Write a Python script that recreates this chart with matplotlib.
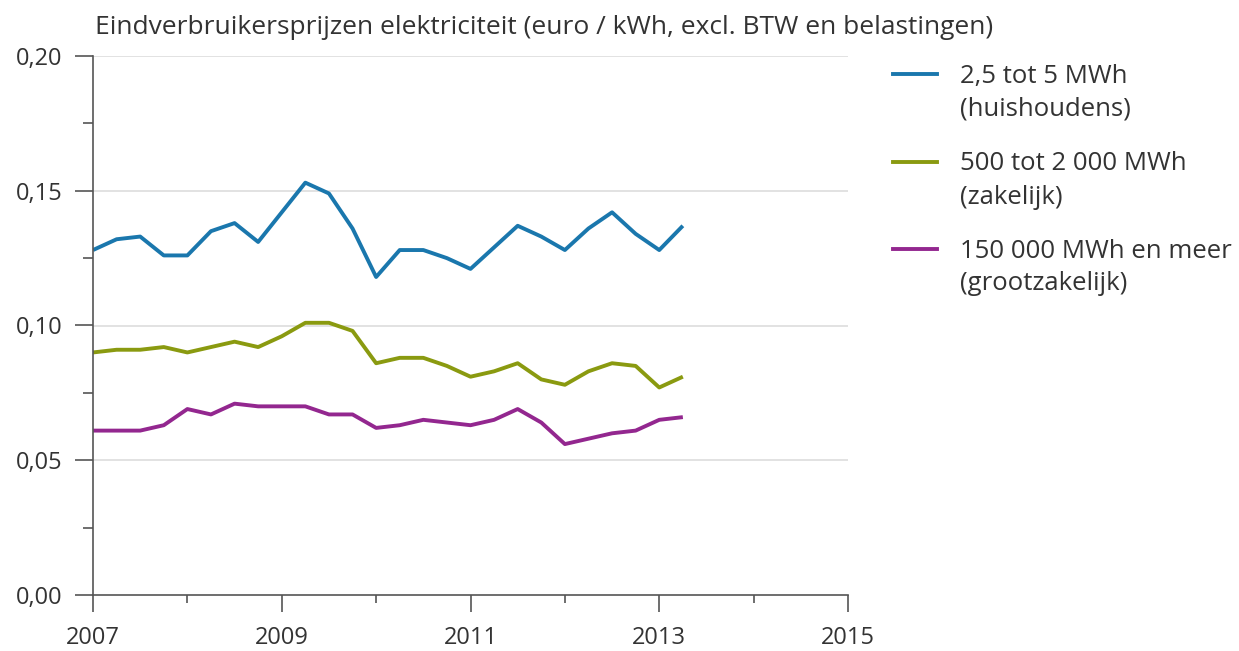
import matplotlib
matplotlib.use("Agg")
import matplotlib.pyplot as plt
from matplotlib.ticker import FuncFormatter, MultipleLocator, FixedLocator
from matplotlib.lines import Line2D
import numpy as np

plt.rcParams['font.family'] = ['Open Sans', 'DejaVu Sans']

title = "Eindverbruikersprijzen elektriciteit (euro / kWh, excl. BTW en belastingen)"
start_year = 2007.0
n_points = 26
labels = [("2,5 tot 5 MWh", "(huishoudens)"),
          ("500 tot 2 000 MWh", "(zakelijk)"),
          ("150 000 MWh en meer", "(grootzakelijk)")]
huishoudens = [0.128, 0.132, 0.133, 0.126, 0.126, 0.135, 0.138, 0.131, 0.142, 0.153,
               0.149, 0.136, 0.118, 0.128, 0.128, 0.125, 0.121, 0.129, 0.137, 0.133,
               0.128, 0.136, 0.142, 0.134, 0.128, 0.137]
zakelijk = [0.090, 0.091, 0.091, 0.092, 0.090, 0.092, 0.094, 0.092, 0.096, 0.101,
            0.101, 0.098, 0.086, 0.088, 0.088, 0.085, 0.081, 0.083, 0.086, 0.080,
            0.078, 0.083, 0.086, 0.085, 0.077, 0.081]
grootzakelijk = [0.061, 0.061, 0.061, 0.063, 0.069, 0.067, 0.071, 0.070, 0.070, 0.070,
                 0.067, 0.067, 0.062, 0.063, 0.065, 0.064, 0.063, 0.065, 0.069, 0.064,
                 0.056, 0.058, 0.060, 0.061, 0.065, 0.066]
colors = ['#1a77ad', '#8a9a10', '#93278f']

x = start_year + np.arange(n_points) * 0.25

W, H = 1239, 651
fig = plt.figure(figsize=(W/100, H/100), dpi=100)
ax = fig.add_axes([93/W, 1-595/H, (848-93)/W, (595-56)/H])

for series, c in zip([huishoudens, zakelijk, grootzakelijk], colors):
    ax.plot(x, series, color=c, lw=2.8, solid_joinstyle='round', solid_capstyle='butt')

ax.set_xlim(2007, 2015)
ax.set_ylim(0, 0.20)

ax.xaxis.set_major_locator(FixedLocator([2007, 2009, 2011, 2013, 2015]))
ax.xaxis.set_minor_locator(FixedLocator([2008, 2010, 2012, 2014]))
ax.xaxis.set_major_formatter(FuncFormatter(lambda v, p: f"{int(v)}"))
ax.yaxis.set_major_locator(MultipleLocator(0.05))
ax.yaxis.set_minor_locator(MultipleLocator(0.025))
ax.yaxis.set_major_formatter(FuncFormatter(lambda v, p: f"{v:.2f}".replace('.', ',')))

tc = '#555555'
ax.tick_params(axis='x', which='major', direction='out', length=12, width=1.2, color=tc,
               labelsize=17, labelcolor='#333333', pad=10)
ax.tick_params(axis='x', which='minor', direction='out', length=6, width=1.2, color=tc)
ax.tick_params(axis='y', which='major', direction='out', length=13, width=1.2, color=tc,
               labelsize=17, labelcolor='#333333', pad=9)
ax.tick_params(axis='y', which='minor', direction='out', length=7, width=1.2, color=tc)

for s in ['top', 'right']:
    ax.spines[s].set_visible(False)
for s in ['left', 'bottom']:
    ax.spines[s].set_color(tc)
    ax.spines[s].set_linewidth(1.2)

for v in [0.05, 0.10, 0.15, 0.20]:
    ax.axhline(v, color='#dddddd', lw=1.2, zorder=0)

fig.text(95/W, 1-27/H, title, fontsize=19, color='#333333', ha='left', va='center')

# legend drawn manually
first_line_y = [74, 162, 249]
for (l1, l2), c, yy in zip(labels, colors, first_line_y):
    fig.add_artist(Line2D([893/W, 937/W], [1-yy/H, 1-yy/H], color=c, lw=2.8,
                          transform=fig.transFigure))
    fig.text(960/W, 1-(yy+2)/H, l1, fontsize=18.5, color='#333333', ha='left', va='center')
    fig.text(960/W, 1-(yy+35)/H, l2, fontsize=18.5, color='#333333', ha='left', va='center')

fig.savefig('out.png', dpi=100, facecolor='white')
